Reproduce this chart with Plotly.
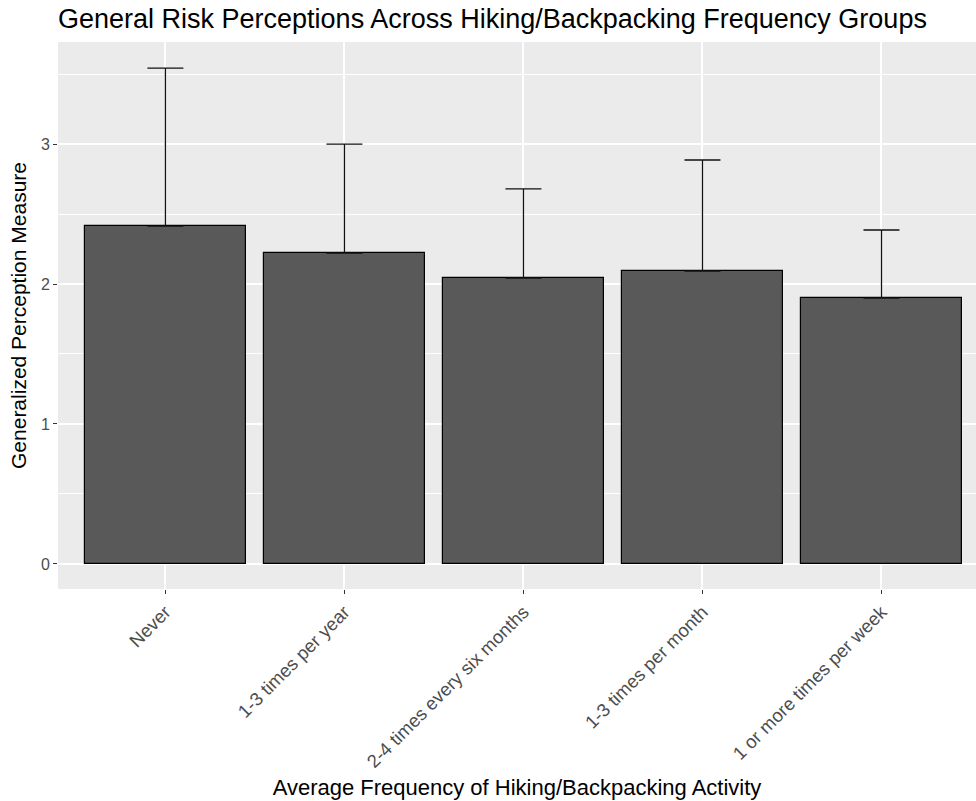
import plotly.graph_objects as go

categories = ["Never", "1-3 times per year", "2-4 times every six months",
              "1-3 times per month", "1 or more times per week"]
means = [2.414, 2.221, 2.043, 2.093, 1.900]
upper_err = [1.129, 0.779, 0.636, 0.793, 0.486]
y_ticks = [0, 1, 2, 3]

FONT = "Liberation Sans, Arial, sans-serif"

fig = go.Figure()
fig.add_trace(go.Bar(
    x=list(range(len(categories))), y=means, width=0.9,
    marker=dict(color="#595959", line=dict(color="black", width=1.2)),
    error_y=dict(type="data", symmetric=False, array=upper_err,
                 arrayminus=[0] * len(means), color="#111111",
                 thickness=1.3, width=18),
    showlegend=False,
))

fig.update_layout(
    width=976, height=801,
    margin=dict(l=58, r=0, t=42, b=212),
    paper_bgcolor="white", plot_bgcolor="#EBEBEB",
    title=dict(text="General Risk Perceptions Across Hiking/Backpacking Frequency Groups",
               x=58 / 976, xanchor="left", y=1 - 19 / 801, yanchor="middle",
               font=dict(family=FONT, size=27, color="black")),
    bargap=0,
)
fig.update_xaxes(
    range=[-0.6, 4.528], tickmode="array",
    tickvals=list(range(len(categories))), ticktext=categories,
    tickangle=-45, ticks="outside", ticklen=4, tickcolor="#333333",
    tickfont=dict(family=FONT, size=18.5, color="#4D4D4D"),
    showgrid=True, gridcolor="white", gridwidth=1.8, zeroline=False,
    title=dict(text="Average Frequency of Hiking/Backpacking Activity",
               font=dict(family=FONT, size=22, color="black"), standoff=8),
)
fig.update_yaxes(
    range=[-0.179, 3.729], tickmode="array", tickvals=y_ticks,
    ticktext=[str(v) for v in y_ticks],
    ticks="outside", ticklen=4, tickcolor="#333333",
    tickfont=dict(family=FONT, size=16, color="#4D4D4D"),
    showgrid=True, gridcolor="white", gridwidth=1.8, zeroline=False,
    minor=dict(tickmode="array", tickvals=[0.5, 1.5, 2.5, 3.5],
               showgrid=True, gridcolor="white", gridwidth=0.9, ticks=""),
    title=dict(text="Generalized Perception Measure",
               font=dict(family=FONT, size=21, color="black"), standoff=8),
)

fig.write_html("out.html", config={"displayModeBar": False},
               post_script="document.body.style.margin='0';document.body.style.overflow='hidden';")
